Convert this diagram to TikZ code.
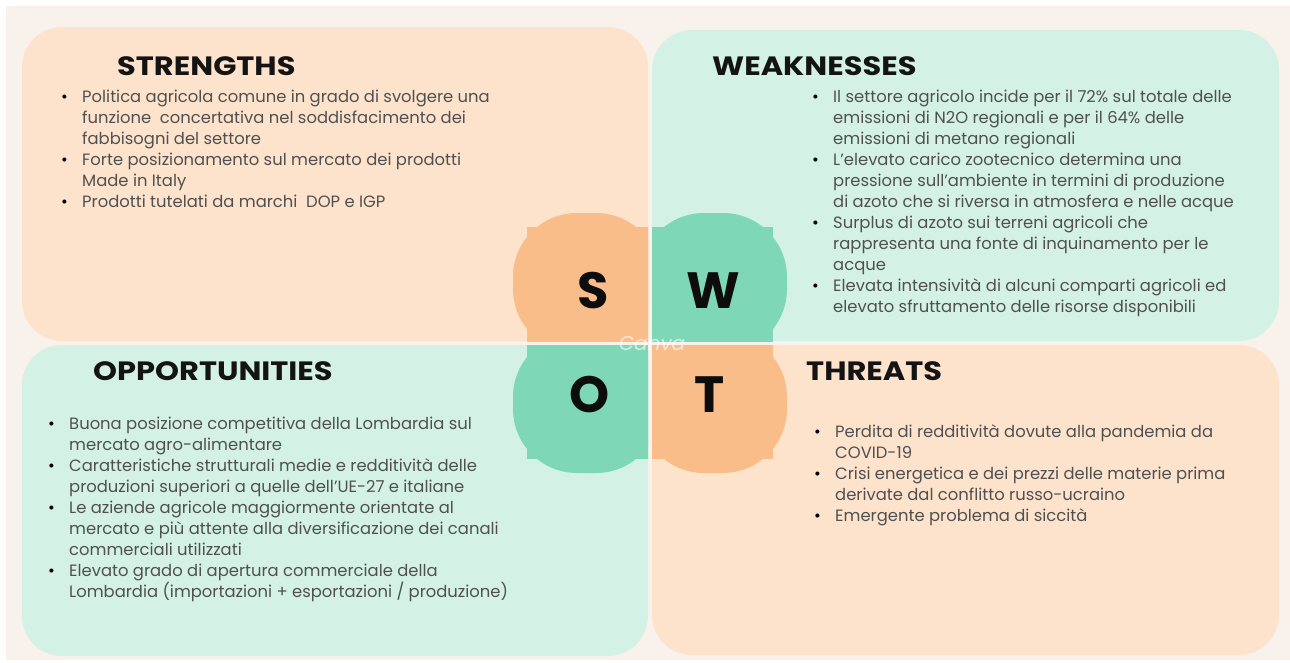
\documentclass[tikz,border=0pt]{standalone}
\usepackage{fontspec}
\setmainfont{Poppins}
\usetikzlibrary{positioning}

\definecolor{bgcream}{HTML}{F9F1EC}
\definecolor{peach}{HTML}{FDE3CC}
\definecolor{mint}{HTML}{D3F2E5}
\definecolor{peachdark}{HTML}{F8BD88}
\definecolor{mintdark}{HTML}{7ED8B7}
\definecolor{bodygray}{HTML}{505050}

\newcommand{\bul}{\makebox[21pt][l]{\textcolor{black}{\textbullet}}}
\newcommand{\ind}{\hspace*{21pt}}

\begin{document}
\begin{tikzpicture}[x=1pt, y=-1pt,
  panel/.style={rounded corners=40pt},
  heading/.style={anchor=base west, inner sep=0pt, text=black!92, xscale=1.15, transform shape,
    font=\fontsize{26.5}{30}\selectfont\bfseries},
  bigletter/.style={anchor=base, inner sep=0pt, text=black!95,
    font=\fontsize{51}{60}\selectfont\bfseries},
  bullets/.style={anchor=north west, align=left, inner sep=0pt, text=bodygray,
    font=\fontsize{16.4}{21}\selectfont}]

  % background
  \useasboundingbox (0,0) rectangle (1290,662);
  \fill[white] (0,0) rectangle (1290,662);
  \fill[bgcream] (6,6) rectangle (1290,660);

  % the four panels
  \fill[peach, panel] (22,27) rectangle (648,341);
  \fill[mint, panel] (652,30) rectangle (1279,341);
  \fill[mint, panel] (22,345) rectangle (648,656);
  \fill[peach, panel] (652,345) rectangle (1279,655);

  % centre blob, one quarter per panel
  \foreach \sx/\sy/\col in {-1/-1/peachdark, 1/-1/mintdark, -1/1/mintdark, 1/1/peachdark}{
    \begin{scope}[shift={(650,343)}, xscale=\sx, yscale=\sy]
      \clip (2,2) rectangle (150,150);
      \fill[\col, rounded corners=64pt] (-10,-10) rectangle (137,130);
      \fill[\col] (0,0) rectangle (123,116);
    \end{scope}
  }

  \node[bigletter] (s) at (593,308) {S};
  \node[bigletter] (w) at (713,308) {W};
  \node[bigletter] (o) at (590,412) {O};
  \node[bigletter] (t) at (710,412) {T};
  \node[text=white, opacity=.6, font=\itshape\fontsize{20}{20}\selectfont] (canva) at (652,344) {Canva};

  % headings
  \node[heading] (strengths) at (117,75) {STRENGTHS};
  \node[heading] (weaknesses) at (712,75) {WEAKNESSES};
  \node[heading] (opportunities) at (93,380) {OPPORTUNITIES};
  \node[heading] (threats) at (806,380) {THREATS};

  % bullet lists
  \node[bullets] (slist) at (61,90) {%
    \bul Politica agricola comune in grado di svolgere una\\
    \ind funzione\ \ concertativa nel soddisfacimento dei\\
    \ind fabbisogni del settore\\
    \bul Forte posizionamento sul mercato dei prodotti\\
    \ind Made in Italy\\
    \bul Prodotti tutelati da marchi\ \ DOP e IGP};

  \node[bullets] (wlist) at (812,90) {%
    \bul Il settore agricolo incide per il 72\% sul totale delle\\
    \ind emissioni di N2O regionali e per il 64\% delle\\
    \ind emissioni di metano regionali\\
    \bul L'elevato carico zootecnico determina una\\
    \ind pressione sull'ambiente in termini di produzione\\
    \ind di azoto che si riversa in atmosfera e nelle acque\\
    \bul Surplus di azoto sui terreni agricoli che\\
    \ind rappresenta una fonte di inquinamento per le\\
    \ind acque\\
    \bul Elevata intensività di alcuni comparti agricoli ed\\
    \ind elevato sfruttamento delle risorse disponibili};

  \node[bullets] (olist) at (48,417) {%
    \bul Buona posizione competitiva della Lombardia sul\\
    \ind mercato agro-alimentare\\
    \bul Caratteristiche strutturali medie e redditività delle\\
    \ind produzioni superiori a quelle dell'UE-27 e italiane\\
    \bul Le aziende agricole maggiormente orientate al\\
    \ind mercato e più attente alla diversificazione dei canali\\
    \ind commerciali utilizzati\\
    \bul Elevato grado di apertura commerciale della\\
    \ind Lombardia (importazioni + esportazioni / produzione)};

  \node[bullets] (tlist) at (814,424) {%
    \bul Perdita di redditività dovute alla pandemia da\\
    \ind COVID-19\\
    \bul Crisi energetica e dei prezzi delle materie prima\\
    \ind derivate dal conflitto russo-ucraino\\
    \bul Emergente problema di siccità};
\end{tikzpicture}
\end{document}
